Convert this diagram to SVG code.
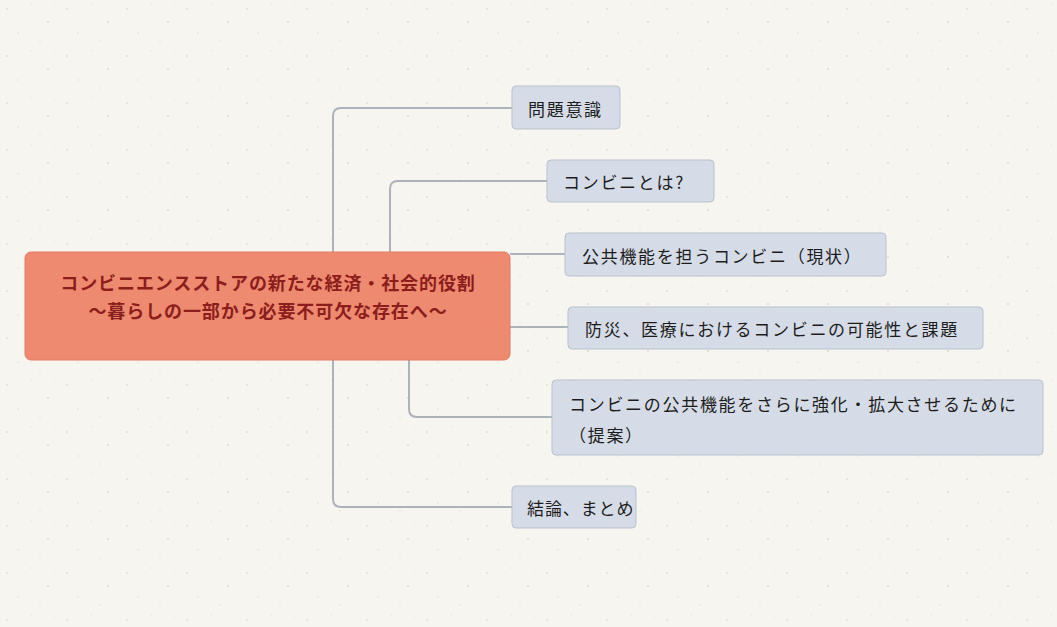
<svg xmlns="http://www.w3.org/2000/svg" width="1057" height="627" viewBox="0 0 1057 627">
<defs>
<pattern id="speck" width="60" height="47" patternUnits="userSpaceOnUse">
<circle cx="7" cy="9" r="0.9" fill="#e2dccd"/>
<circle cx="31" cy="4" r="0.7" fill="#e6e0d2"/>
<circle cx="48" cy="22" r="1" fill="#e0d9c9"/>
<circle cx="18" cy="33" r="0.8" fill="#e4ded0"/>
<circle cx="40" cy="41" r="0.7" fill="#e2dccd"/>
<circle cx="55" cy="6" r="0.6" fill="#e6e0d2"/>
</pattern>
<style>
.node rect{fill:#d6dce7;stroke:#b9c1cd;stroke-width:1}
.node text{font-family:"Noto Sans CJK JP","Noto Sans",sans-serif;font-size:17px;letter-spacing:1.7px;fill:#1c1c1c;dominant-baseline:central}
.root rect{fill:#ee8a6f;stroke:#e27d63;stroke-width:1}
.root text{font-family:"Noto Sans CJK JP","Noto Sans",sans-serif;font-size:18px;letter-spacing:0.9px;font-weight:bold;fill:#8c1d1d;dominant-baseline:central;text-anchor:middle}
.conn path{fill:none;stroke:#adb3bb;stroke-width:2}
</style>
</defs>
<rect width="1057" height="627" fill="#f7f5f0"/>
<rect width="1057" height="627" fill="url(#speck)"/>
<g id="connectors" class="conn">
<path d="M333 252 V116 Q333 108 341 108 H512"/>
<path d="M390 252 V189 Q390 181 398 181 H547"/>
<path d="M510 254 H565"/>
<path d="M510 327 H568"/>
<path d="M409 360 V409 Q409 417 417 417 H552"/>
<path d="M333 360 V499 Q333 507 341 507 H512"/>
</g>
<g id="root" class="root">
<rect x="25" y="252" width="485" height="108" rx="6"/>
<text x="268" y="282">コンビニエンスストアの新たな経済・社会的役割</text>
<text x="268" y="310">～暮らしの一部から必要不可欠な存在へ～</text>
</g>
<g id="n1" class="node">
<rect x="512" y="86" width="108" height="43" rx="4"/>
<text x="528" y="108">問題意識</text>
</g>
<g id="n2" class="node">
<rect x="547" y="160" width="167" height="42" rx="4"/>
<text x="563" y="181">コンビニとは?</text>
</g>
<g id="n3" class="node">
<rect x="565" y="233" width="321" height="43" rx="4"/>
<text x="582" y="255">公共機能を担うコンビニ（現状）</text>
</g>
<g id="n4" class="node">
<rect x="568" y="307" width="415" height="42" rx="4"/>
<text x="585" y="328">防災、医療におけるコンビニの可能性と課題</text>
</g>
<g id="n5" class="node">
<rect x="552" y="380" width="491" height="75" rx="4"/>
<text x="569" y="403">コンビニの公共機能をさらに強化・拡大させるために</text>
<text x="569" y="434">（提案）</text>
</g>
<g id="n6" class="node">
<rect x="512" y="486" width="124" height="42" rx="4"/>
<text x="527" y="507" style="letter-spacing:0.9px">結論、まとめ</text>
</g>
</svg>
